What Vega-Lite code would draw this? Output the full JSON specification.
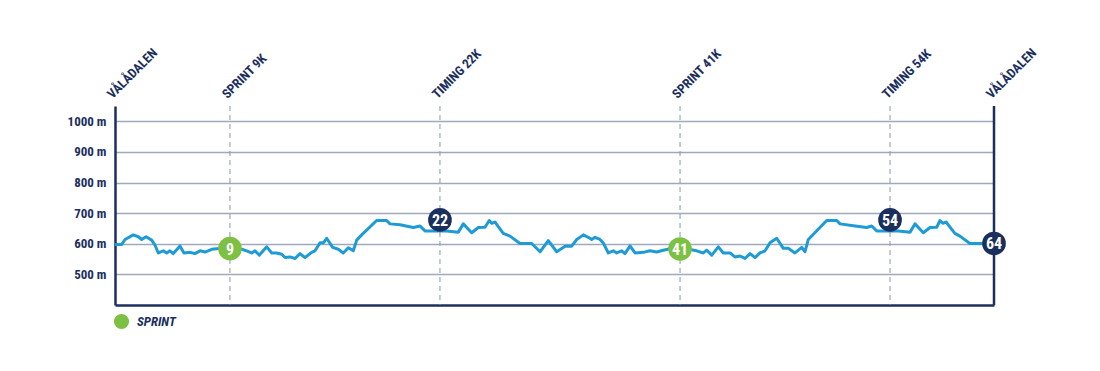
{
  "$schema": "https://vega.github.io/schema/vega-lite/v6.json",
  "autosize": "none",
  "width": 879,
  "height": 199,
  "padding": {"top": 106, "left": 115, "right": 106, "bottom": 66},
  "background": "white",
  "config": {
    "view": {"stroke": null},
    "font": "'Roboto Condensed', 'DejaVu Sans Condensed', 'Liberation Sans Narrow', Roboto, sans-serif"
  },
  "datasets": {
    "profile": [
      {"km": 0, "elev": 598}, {"km": 0.49, "elev": 598}, {"km": 0.73, "elev": 614}, {"km": 1.33, "elev": 629},
      {"km": 1.70, "elev": 623}, {"km": 1.94, "elev": 614}, {"km": 2.26, "elev": 623}, {"km": 2.67, "elev": 612},
      {"km": 2.91, "elev": 596}, {"km": 3.15, "elev": 570}, {"km": 3.52, "elev": 577}, {"km": 3.76, "elev": 570},
      {"km": 4.00, "elev": 577}, {"km": 4.24, "elev": 568}, {"km": 4.73, "elev": 593}, {"km": 5.02, "elev": 570},
      {"km": 5.46, "elev": 572}, {"km": 5.82, "elev": 568}, {"km": 6.19, "elev": 577}, {"km": 6.55, "elev": 573},
      {"km": 7.04, "elev": 582}, {"km": 7.40, "elev": 584}, {"km": 8.01, "elev": 585}, {"km": 8.37, "elev": 586},
      {"km": 8.81, "elev": 584}, {"km": 9.23, "elev": 582}, {"km": 9.59, "elev": 577}, {"km": 9.95, "elev": 570},
      {"km": 10.19, "elev": 577}, {"km": 10.51, "elev": 563}, {"km": 11.05, "elev": 590}, {"km": 11.41, "elev": 570},
      {"km": 11.77, "elev": 570}, {"km": 12.14, "elev": 566}, {"km": 12.38, "elev": 555}, {"km": 12.74, "elev": 557},
      {"km": 13.11, "elev": 552}, {"km": 13.47, "elev": 568}, {"km": 13.83, "elev": 555}, {"km": 14.32, "elev": 572},
      {"km": 14.56, "elev": 577}, {"km": 14.93, "elev": 603}, {"km": 15.17, "elev": 603}, {"km": 15.41, "elev": 618},
      {"km": 15.85, "elev": 588}, {"km": 16.26, "elev": 582}, {"km": 16.62, "elev": 570}, {"km": 16.99, "elev": 587},
      {"km": 17.35, "elev": 577}, {"km": 17.60, "elev": 612}, {"km": 17.96, "elev": 629}, {"km": 19.05, "elev": 676},
      {"km": 19.78, "elev": 676}, {"km": 20.02, "elev": 665}, {"km": 20.75, "elev": 662}, {"km": 21.72, "elev": 653},
      {"km": 22.21, "elev": 658}, {"km": 22.57, "elev": 642}, {"km": 23.06, "elev": 642}, {"km": 23.66, "elev": 642},
      {"km": 24.15, "elev": 642}, {"km": 25.00, "elev": 638}, {"km": 25.36, "elev": 665}, {"km": 25.97, "elev": 636},
      {"km": 26.45, "elev": 653}, {"km": 26.94, "elev": 654}, {"km": 27.25, "elev": 676}, {"km": 27.43, "elev": 667},
      {"km": 27.67, "elev": 671}, {"km": 28.27, "elev": 634}, {"km": 28.76, "elev": 625}, {"km": 29.49, "elev": 601},
      {"km": 30.34, "elev": 601}, {"km": 30.95, "elev": 574}, {"km": 31.55, "elev": 610}, {"km": 32.16, "elev": 574},
      {"km": 32.77, "elev": 592}, {"km": 33.25, "elev": 592}, {"km": 33.62, "elev": 614}, {"km": 34.10, "elev": 629},
      {"km": 34.46, "elev": 621}, {"km": 34.71, "elev": 614}, {"km": 34.95, "elev": 621}, {"km": 35.31, "elev": 614},
      {"km": 35.55, "elev": 603}, {"km": 35.92, "elev": 570}, {"km": 36.28, "elev": 577}, {"km": 36.53, "elev": 570},
      {"km": 36.89, "elev": 577}, {"km": 37.13, "elev": 568}, {"km": 37.50, "elev": 593}, {"km": 37.86, "elev": 570},
      {"km": 38.47, "elev": 572}, {"km": 38.95, "elev": 577}, {"km": 39.44, "elev": 573}, {"km": 39.92, "elev": 579},
      {"km": 40.41, "elev": 584}, {"km": 40.78, "elev": 585}, {"km": 41.14, "elev": 586}, {"km": 41.58, "elev": 584},
      {"km": 42.35, "elev": 577}, {"km": 42.84, "elev": 570}, {"km": 43.08, "elev": 579}, {"km": 43.45, "elev": 563},
      {"km": 43.93, "elev": 590}, {"km": 44.29, "elev": 570}, {"km": 44.78, "elev": 570}, {"km": 45.14, "elev": 557},
      {"km": 45.51, "elev": 560}, {"km": 45.87, "elev": 552}, {"km": 46.24, "elev": 568}, {"km": 46.60, "elev": 555},
      {"km": 46.96, "elev": 570}, {"km": 47.33, "elev": 577}, {"km": 47.69, "elev": 603}, {"km": 48.18, "elev": 618},
      {"km": 48.66, "elev": 585}, {"km": 49.02, "elev": 585}, {"km": 49.51, "elev": 570}, {"km": 50.00, "elev": 588},
      {"km": 50.24, "elev": 574}, {"km": 50.48, "elev": 614}, {"km": 51.82, "elev": 676}, {"km": 52.55, "elev": 676},
      {"km": 52.79, "elev": 665}, {"km": 53.76, "elev": 659}, {"km": 54.73, "elev": 653}, {"km": 55.10, "elev": 658},
      {"km": 55.46, "elev": 642}, {"km": 55.82, "elev": 642}, {"km": 56.43, "elev": 642}, {"km": 57.03, "elev": 642},
      {"km": 57.89, "elev": 638}, {"km": 58.25, "elev": 665}, {"km": 58.85, "elev": 636}, {"km": 59.34, "elev": 653},
      {"km": 59.83, "elev": 654}, {"km": 60.07, "elev": 676}, {"km": 60.27, "elev": 667}, {"km": 60.51, "elev": 671},
      {"km": 61.15, "elev": 634}, {"km": 61.52, "elev": 625}, {"km": 62.25, "elev": 601}, {"km": 63.22, "elev": 601},
      {"km": 64.00, "elev": 600}
    ],
    "points": [
      {"km": 0, "name": "VÅLÅDALEN", "kind": "START", "num": null, "elev": null},
      {"km": 8.37, "name": "SPRINT 9K", "kind": "SPRINT", "num": "9", "elev": 584},
      {"km": 23.66, "name": "TIMING 22K", "kind": "TIMING", "num": "22", "elev": 678},
      {"km": 41.14, "name": "SPRINT 41K", "kind": "SPRINT", "num": "41", "elev": 583},
      {"km": 56.43, "name": "TIMING 54K", "kind": "TIMING", "num": "54", "elev": 678},
      {"km": 64, "name": "VÅLÅDALEN", "kind": "FINISH", "num": "64", "elev": 601}
    ]
  },
  "encoding": {
    "x": {"field": "km", "type": "quantitative", "scale": {"domain": [0, 64], "nice": false, "zero": false},
      "axis": {"title": null, "labels": false, "ticks": false, "grid": false, "domainColor": "#1b2f5e", "domainWidth": 2.5}},
    "y": {"field": "elev", "type": "quantitative", "scale": {"domain": [400, 1050], "nice": false, "zero": false},
      "axis": {"title": null, "values": [500, 600, 700, 800, 900, 1000], "labelExpr": "datum.value + ' m'",
        "ticks": false, "labelPadding": 9, "labelFontWeight": "bold", "labelFontSize": 13,
        "labelColor": "#1b2f5e", "grid": true, "gridColor": "#9ea9bc", "gridWidth": 1.5,
        "domainColor": "#1b2f5e", "domainWidth": 2.5}}
  },
  "layer": [
    {
      "data": {"name": "points"},
      "transform": [{"filter": "datum.kind == 'SPRINT' || datum.kind == 'TIMING'"}],
      "mark": {"type": "rule", "color": "#8c97aa", "strokeDash": [5, 4], "strokeWidth": 1},
      "encoding": {"x": {"field": "km", "type": "quantitative"}, "y": null}
    },
    {
      "data": {"name": "points"},
      "transform": [{"filter": "datum.kind == 'FINISH'"}],
      "mark": {"type": "rule", "color": "#1b2f5e", "strokeWidth": 2.5},
      "encoding": {"x": {"field": "km", "type": "quantitative"}, "y": null}
    },
    {
      "data": {"name": "profile"},
      "mark": {"type": "line", "color": "#1e9bd7", "strokeWidth": 3, "strokeJoin": "round"},
      "encoding": {}
    },
    {
      "data": {"name": "points"},
      "transform": [{"filter": "datum.num != null"}],
      "mark": {"type": "point", "filled": true, "opacity": 1, "size": 560, "shape": "circle"},
      "encoding": {
        "color": {"field": "kind", "type": "nominal",
          "scale": {"domain": ["SPRINT", "TIMING", "FINISH"], "range": ["#7cc142", "#1b2f5e", "#1b2f5e"]},
          "legend": {"values": ["SPRINT"], "title": null, "orient": "none", "legendX": -2, "legendY": 207,
            "symbolType": "circle", "symbolSize": 230, "symbolOpacity": 1,
            "labelFontWeight": "bold", "labelFontStyle": "italic", "labelFontSize": 13, "labelColor": "#1b2f5e", "labelOffset": 7}}
      }
    },
    {
      "data": {"name": "points"},
      "transform": [{"filter": "datum.num != null"}],
      "mark": {"type": "text", "color": "white", "fontWeight": "bold", "fontSize": 16, "align": "center", "baseline": "middle", "dy": 1},
      "encoding": {"text": {"field": "num"}}
    },
    {
      "data": {"name": "points"},
      "mark": {"type": "text", "color": "#1b2f5e", "fontWeight": "bold", "fontSize": 13, "angle": 315, "align": "left", "baseline": "middle", "dx": 3, "dy": -10.6},
      "encoding": {"text": {"field": "name"}, "y": {"value": 0}}
    }
  ]
}
